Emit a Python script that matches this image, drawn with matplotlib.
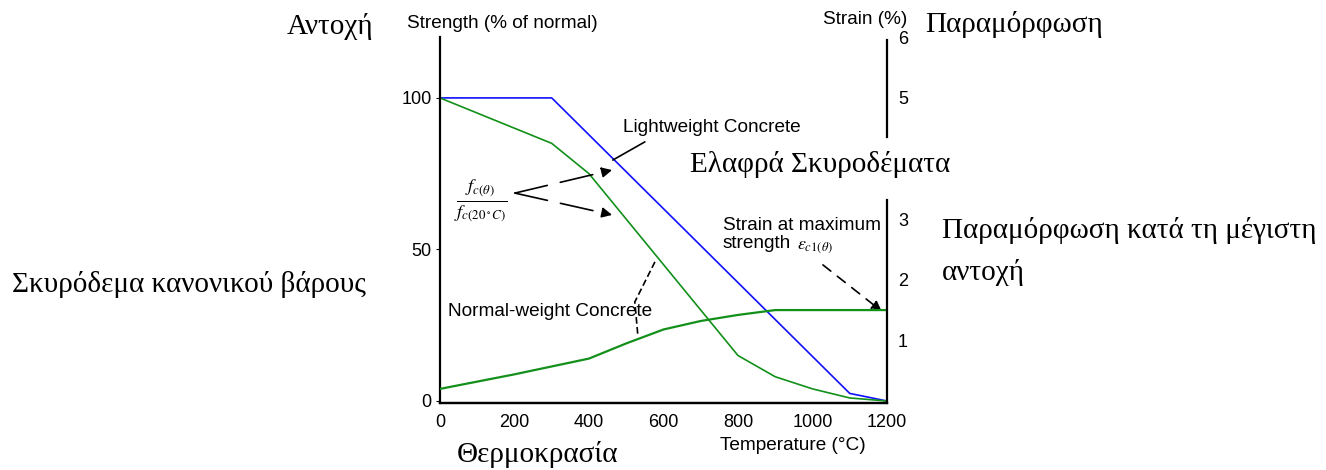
import numpy as np
import matplotlib.pyplot as plt

plt.rcParams['font.family'] = ['Liberation Sans', 'DejaVu Sans']
plt.rcParams['mathtext.fontset'] = 'stix'

W, H = 1326, 470

# Θερμοκρασία (°C)
temperature = [0, 100, 200, 300, 400, 500, 600, 700, 800, 900, 1000, 1100, 1200]
# Αντοχή σκυροδέματος κανονικού βάρους (% της αντοχής στους 20°C)
strength_normal = [100, 95, 90, 85, 75, 60, 45, 30, 15, 8, 4, 1, 0]
# Παραμόρφωση κατά τη μέγιστη αντοχή (%)
strain_peak = [0.2, 0.32, 0.44, 0.57, 0.7, 0.95, 1.18, 1.32, 1.42, 1.5, 1.5, 1.5, 1.5]
# Ελαφρά σκυροδέματα
temperature_light = [0, 300, 1100, 1200]
strength_light = [100, 100, 2.5, 0]

strength_ticks = [0, 50, 100]
strain_ticks = [1, 2, 3, 5, 6]
temp_ticks = [0, 200, 400, 600, 800, 1000, 1200]

BLUE = '#1010ff'
GREEN = '#12901a'
SANS = 13.7


def fx(px):
    return px / W


def fy(py):
    return 1 - py / H


fig = plt.figure(figsize=(W / 100, H / 100), dpi=100)
ax = fig.add_axes([fx(440), fy(403), fx(887) - fx(440), fy(37) - fy(403)])
ax2 = ax.twinx()

ax.set_xlim(0, 1200)
ax.set_ylim(-0.66, 120.1)
ax2.set_ylim(-0.66 / 20, 120.1 / 20)

ax.plot(temperature_light, strength_light, color=BLUE, lw=1.2)
ax.plot(temperature, strength_normal, color=GREEN, lw=1.2)
ax2.plot(temperature, strain_peak, color=GREEN, lw=1.6)

for a in (ax, ax2):
    a.spines['top'].set_visible(False)
ax.spines['right'].set_visible(False)
ax2.spines['left'].set_visible(False)
for a in (ax, ax2):
    for s in a.spines.values():
        s.set_linewidth(1.6)

# right spine has a gap where the lightweight label sits
ax2.spines['right'].set_bounds(-0.66 / 20, 3.32)
ax2.plot([1200, 1200], [4.36, 5.96], color='k', lw=1.6, clip_on=False)

ax.set_xticks(temp_ticks)
ax.set_yticks(strength_ticks)
ax2.set_yticks(strain_ticks)
ax.tick_params(axis='x', length=0, pad=8, labelsize=13)
ax.tick_params(axis='y', length=3, pad=3, labelsize=13)
ax2.tick_params(axis='y', length=0, pad=8, labelsize=13)

# axis titles
fig.text(fx(407), fy(23), 'Strength (% of normal)', fontsize=SANS, va='center')
fig.text(fx(823), fy(20), 'Strain (%)', fontsize=SANS, va='center')
fig.text(fx(720), fy(445), 'Temperature (°C)', fontsize=SANS, va='center')

# curve labels
fig.text(fx(623), fy(127), 'Lightweight Concrete', fontsize=SANS, va='center')
fig.text(fx(448), fy(312), 'Normal-weight Concrete', fontsize=SANS, va='center')
fig.text(fx(723), fy(225), 'Strain at maximum', fontsize=SANS, va='center')
fig.text(fx(723), fy(243), 'strength', fontsize=SANS, va='center')
fig.text(fx(797), fy(248), r'$\varepsilon_{c1(\theta)}$', fontsize=13, va='center')
fig.text(fx(481), fy(201), r'$\frac{f_{c(\theta)}}{f_{c(20^\circ C)}}$',
         fontsize=19, ha='center', va='center')

# Greek labels
greek = dict(fontsize=21, va='center', family=['Liberation Serif', 'DejaVu Serif'])
fig.text(fx(287), fy(27), 'Αντοχή', **greek)
fig.text(fx(925), fy(25), 'Παραμόρφωση', **greek)
fig.text(fx(690), fy(165), 'Ελαφρά Σκυροδέματα', **greek)
fig.text(fx(942), fy(231), 'Παραμόρφωση κατά τη μέγιστη', **greek)
fig.text(fx(942), fy(272), 'αντοχή', **greek)
fig.text(fx(12), fy(285), 'Σκυρόδεμα κανονικού βάρους', **greek)
fig.text(fx(457), fy(454), 'Θερμοκρασία', **greek)

# leader lines
dash = dict(arrowstyle='-|>,head_length=0.6,head_width=0.3', color='k', lw=1.2,
            ls=(0, (20, 8)), shrinkA=0, shrinkB=0)
ax.annotate('', xy=(462, 76.2), xytext=(201, 68.6), arrowprops=dash)
ax.annotate('', xy=(462, 61.4), xytext=(201, 68.6), arrowprops=dash)
ax.annotate('', xy=(464, 79.5), xytext=(550, 85.5),
            arrowprops=dict(arrowstyle='-', color='k', lw=1.2, shrinkA=0, shrinkB=0))
ax.plot([577, 523, 531], [45.9, 32.7, 21.8], color='k', lw=1.2, ls=(0, (4, 2)))
ax.annotate('', xy=(1186, 29.6), xytext=(1028, 44.9),
            arrowprops=dict(dash, ls=(0, (6, 5))))

fig.savefig('out.png', dpi=100)
